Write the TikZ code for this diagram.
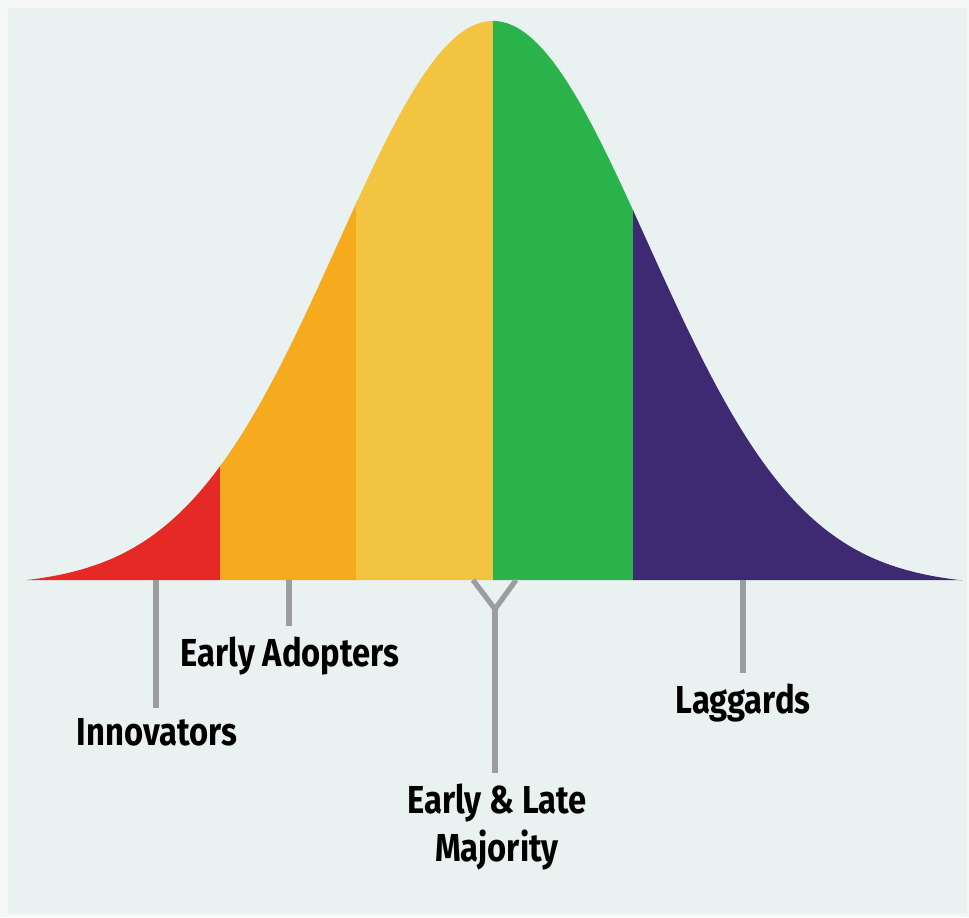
\documentclass[tikz,border=0pt]{standalone}
\usepackage{fontspec}
\newfontfamily\labfont[FakeStretch=0.84]{Fira Sans}
\definecolor{outerbg}{HTML}{F6F7F7}
\definecolor{panelbg}{HTML}{E9F2F1}
\definecolor{cred}{HTML}{E52A25}
\definecolor{corange}{HTML}{F6AB1E}
\definecolor{cyellow}{HTML}{F2C43F}
\definecolor{cgreen}{HTML}{2BB34B}
\definecolor{cpurple}{HTML}{3D2A73}
\definecolor{lgray}{HTML}{9C9DA1}
\tikzset{
  lab/.style={font=\labfont\bfseries\fontsize{19.5}{23}\selectfont, text=black, inner sep=0pt, align=center},
  tick/.style={draw=lgray, line width=2.6pt},
}
\begin{document}
\begin{tikzpicture}[x=0.5pt,y=-0.5pt]
\useasboundingbox (0,0) rectangle (969,917);
\fill[outerbg] (0,0) rectangle (969,917);
\fill[panelbg] (8,8) rectangle (967,914);
% bell curve
\begin{scope}
  \clip (26,580) -- plot[domain=26:962,samples=240,smooth] (\x,{580-559*(exp(-0.5*((\x-493)/155)^2)-0.0108)/(1-0.0108)}) -- (962,580) -- cycle;
  \fill[cred] (20,0) rectangle (220.5,581);
  \fill[corange] (220,0) rectangle (356.5,581);
  \fill[cyellow] (356,0) rectangle (493.5,581);
  \fill[cgreen] (493,0) rectangle (633.5,581);
  \fill[cpurple] (633,0) rectangle (970,581);
\end{scope}
% anchors on the base line
\coordinate (pI) at (156,580);
\coordinate (pA) at (289,580);
\coordinate (pL) at (473,580);
\coordinate (pR) at (516,580);
\coordinate (pJ) at (495,609);
\coordinate (pG) at (743,580);
% labels
\node[lab, anchor=base] (innov) at (157,745) {Innovators};
\node[lab, anchor=base] (adopt) at (290,666) {Early Adopters};
\node[lab, anchor=base] (lagg) at (743,713) {Laggards};
\node[lab, anchor=north] (major) at (497,783) {Early \& Late\\[1pt]Majority};
% connectors
\draw[tick] (pI) -- ([yshift=5pt]innov.north -| pI);
\draw[tick] (pA) -- ([yshift=5pt]adopt.north -| pA);
\draw[tick] (pG) -- ([yshift=5pt]lagg.north -| pG);
\draw[tick, line join=miter] (pL) -- (pJ) -- (pR);
\draw[tick] (pJ) -- ([yshift=5pt]major.north -| pJ);
\end{tikzpicture}
\end{document}
